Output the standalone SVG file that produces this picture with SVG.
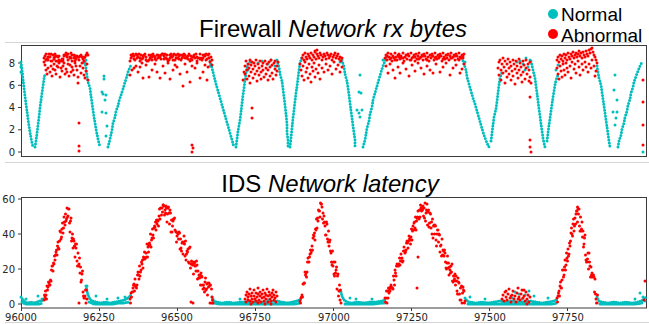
<svg xmlns="http://www.w3.org/2000/svg" width="649" height="324" viewBox="0 0 649 324">
<style>
.c{fill:none;stroke:#00bfbf;stroke-width:3;stroke-linecap:round}
.r{fill:none;stroke:#ff0000;stroke-width:3;stroke-linecap:round}
.cd{fill:none;stroke:#00bfbf;stroke-width:3;stroke-linecap:round;stroke-dasharray:0 3}
.cb{fill:none;stroke:#00bfbf;stroke-width:3;stroke-linecap:round;stroke-dasharray:0 2.2}
.ax{fill:none;stroke:#3a3a3a;stroke-width:1}
.tk{stroke:#3a3a3a;stroke-width:1}
.tl{font-family:"DejaVu Sans",sans-serif;font-size:10px;fill:#262626}
.ttl{font-family:"Liberation Sans",Arial,sans-serif;font-size:24px;fill:#000}
.lg{font-family:"Liberation Sans",Arial,sans-serif;font-size:19px;fill:#000}
.sep{stroke:#d4d4d4;stroke-width:1}
</style>
<rect width="649" height="324" fill="#fff"/>
<g id="separators">
<line class="sep" x1="5" y1="42.5" x2="642" y2="42.5"/>
<line class="sep" x1="5" y1="162.5" x2="649" y2="162.5"/>
<line class="sep" x1="5" y1="322.5" x2="649" y2="322.5"/>
</g>
<g id="title-top"><text class="ttl" x="333" y="37" text-anchor="middle">Firewall <tspan font-style="italic">Network rx bytes</tspan></text></g>
<g id="title-bottom"><text class="ttl" x="330" y="191.5" text-anchor="middle">IDS <tspan font-style="italic">Network latency</tspan></text></g>
<g id="legend">
<circle cx="553" cy="14" r="5" fill="#00bfbf"/>
<text class="lg" x="561" y="21">Normal</text>
<circle cx="553" cy="34" r="5" fill="#ff0000"/>
<text class="lg" x="561" y="42">Abnormal</text>
</g>
<g id="top-axes">
<rect class="ax" x="21.5" y="45.5" width="625" height="111"/>
<line class="tk" x1="18" y1="63" x2="21" y2="63"/>
<line class="tk" x1="18" y1="85.3" x2="21" y2="85.3"/>
<line class="tk" x1="18" y1="107.5" x2="21" y2="107.5"/>
<line class="tk" x1="18" y1="129.8" x2="21" y2="129.8"/>
<line class="tk" x1="18" y1="152" x2="21" y2="152"/>
<text class="tl" x="15" y="66.5" text-anchor="end">8</text>
<text class="tl" x="15" y="88.8" text-anchor="end">6</text>
<text class="tl" x="15" y="111" text-anchor="end">4</text>
<text class="tl" x="15" y="133.3" text-anchor="end">2</text>
<text class="tl" x="15" y="155.5" text-anchor="end">0</text>
</g>
<g id="top-normal">
<polyline class="cd" points="21,62 22,70 23,79 24,88 25,96 26,104 27,111 28,119 29,126 30,132 31,138 32,143 33,147"/>
<polyline class="cd" points="35,147 36,141 37,133 38,125 39,117 40,108 41,100 42,93 43,86 44,79 45,73"/>
<polyline class="cd" points="85,62 86,68 87,76 88,82 90,88 91,96 92,103 93,110 94,117 95,123 96,129 97,134 98,139 99,143 100,147"/>
<polyline class="cd" points="108,147 110,139 112,130 113,123 115,117 116,111 118,106 119,101 121,95 123,89 125,82 127,76 128,72 130,67 132,64"/>
<polyline class="cd" points="210,61 212,68 214,76 216,84 218,91 220,98 222,105 224,112 226,119 228,126 230,133 232,140 234,147"/>
<polyline class="cd" points="236,147 237,139 238,131 240,120 241,112 242,103 243,95 244,88 245,80 246,73 247,67 249,62"/>
<polyline class="cd" points="277,60 279,67 280,74 282,81 283,89 284,97 285,105 286,114 287,124 287,133 288,140 288,147"/>
<polyline class="cd" points="290,147 291,138 292,128 293,118 294,110 295,101 296,93 297,86 298,78 299,70 300,63 302,57"/>
<polyline class="cd" points="342,60 344,67 345,74 347,81 348,88 349,95 350,103 351,111 352,118 353,126 354,133 355,140 355,147"/>
<polyline class="cd" points="363,147 365,140 366,134 367,128 369,121 370,114 372,107 373,100 375,93 377,86 379,79 381,72 383,66 385,61 387,56"/>
<polyline class="cd" points="462,58 464,64 466,70 467,77 469,84 471,91 473,98 475,104 477,111 479,118 481,125 483,132 485,138 487,143 489,147"/>
<polyline class="cd" points="491,141 492,133 493,125 494,117 496,109 497,101 498,93 499,85 500,78 502,72"/>
<polyline class="cd" points="531,61 533,70 535,78 536,86 537,93 538,101 539,109 540,116 541,124 542,131 543,138 544,143 545,147"/>
<polyline class="cd" points="547,141 548,133 549,125 550,118 551,111 552,104 553,97 554,91 555,85 556,80 558,75"/>
<polyline class="cd" points="597,66 598,72 599,78 601,85 602,92 603,99 604,106 605,113 606,120 607,127 608,134 609,141 610,147"/>
<polyline class="cd" points="618,147 619,141 621,135 622,129 624,123 625,117 627,111 628,105 630,99 631,93 633,87 634,82 636,76 638,71 640,66 642,62"/>
<path class="c" d="M21 67h0M22 74h0M21 72h0M104 76h0M104 79h0M102 92h0M103 94h0M106 95h0M105 100h0M102 112h0M106 113h0M107 126h0M106 136h0M84 63h0M86 60h0M250 62h0M258 63h0M262 61h0M271 60h0M275 66h0M268 64h0M340 62h0M383 60h0M360 75h0M359 92h0M361 93h0M357 110h0M362 110h0M359 113h0M360 117h0M520 61h0M523 64h0M526 58h0M528 67h0M530 60h0M525 70h0M517 62h0M556 70h0M558 65h0M615 75h0M614 90h0M617 100h0M613 112h0M617 112h0M615 125h0M616 118h0M643 152h0M465 62h0M210 66h0M248 70h0"/>
</g>
<g id="top-abnormal">
<path class="r" d="M45 56h0M46 54h0M48 57h0M49 54h0M50 57h0M51 61h0M53 55h0M54 58h0M55 57h0M57 56h0M58 57h0M59 60h0M61 61h0M62 59h0M63 61h0M64 56h0M66 55h0M67 56h0M68 60h0M70 57h0M71 58h0M72 55h0M74 58h0M75 57h0M76 56h0M77 56h0M79 60h0M80 56h0M81 55h0M83 59h0M84 61h0M85 57h0M87 53h0M88 55h0M46 60h0M47 59h0M48 60h0M50 57h0M51 54h0M52 61h0M54 59h0M55 54h0M56 61h0M58 61h0M59 56h0M60 61h0M62 61h0M63 59h0M64 55h0M66 53h0M67 57h0M68 54h0M70 58h0M71 53h0M72 61h0M74 55h0M75 61h0M76 59h0M78 57h0M79 57h0M80 56h0M82 57h0M83 57h0M84 58h0M86 55h0M44 58h0M44 62h0M45 65h0M46 70h0M47 74h0M48 68h0M50 72h0M51 66h0M52 76h0M54 64h0M55 70h0M56 74h0M58 67h0M59 63h0M60 77h0M62 71h0M63 66h0M65 74h0M66 69h0M68 64h0M69 76h0M71 72h0M72 67h0M74 75h0M75 63h0M77 70h0M78 77h0M80 66h0M81 73h0M83 68h0M84 75h0M86 71h0M87 64h0M85 78h0M78 83h0M88 80h0M53 69h0M57 66h0M61 68h0M64 63h0M67 72h0M70 65h0M73 70h0M76 66h0M82 63h0"/>
<path class="r" d="M130 61h0M131 55h0M132 56h0M133 54h0M134 59h0M135 60h0M136 54h0M137 58h0M138 57h0M139 54h0M140 58h0M141 55h0M142 59h0M143 58h0M144 55h0M145 54h0M146 60h0M147 61h0M148 61h0M149 60h0M150 58h0M151 55h0M152 60h0M153 54h0M154 56h0M155 57h0M156 60h0M157 55h0M158 58h0M159 56h0M160 57h0M161 55h0M162 54h0M163 54h0M164 59h0M165 54h0M166 58h0M167 59h0M168 61h0M169 60h0M170 55h0M171 54h0M172 57h0M173 60h0M174 54h0M175 60h0M176 58h0M177 58h0M178 54h0M179 56h0M180 55h0M181 60h0M182 55h0M183 56h0M184 54h0M185 58h0M186 58h0M187 57h0M188 59h0M189 54h0M190 61h0M191 56h0M192 60h0M193 57h0M194 57h0M195 58h0M196 54h0M197 61h0M198 58h0M199 58h0M200 54h0M201 58h0M202 60h0M203 55h0M204 55h0M205 56h0M206 54h0M207 59h0M208 55h0M209 58h0M131 58h0M134 56h0M137 55h0M140 61h0M143 56h0M146 57h0M149 55h0M152 57h0M155 59h0M158 55h0M161 59h0M164 56h0M167 55h0M170 58h0M173 56h0M176 55h0M179 59h0M182 58h0M185 55h0M188 56h0M191 59h0M194 55h0M197 57h0M200 59h0M203 58h0M206 60h0M209 54h0M211 57h0M212 60h0M130 75h0M132 70h0M134 68h0M136 66h0M138 72h0M140 67h0M142 63h0M143 78h0M146 65h0M149 77h0M152 70h0M155 64h0M157 72h0M160 78h0M163 66h0M165 73h0M168 63h0M170 79h0M173 70h0M175 65h0M177 67h0M180 74h0M183 86h0M185 64h0M187 72h0M190 82h0M192 66h0M195 68h0M197 63h0M200 78h0M203 72h0M205 65h0M207 80h0M208 67h0M210 62h0M212 65h0"/>
<path class="r" d="M245 66h0M245 74h0M246 61h0M247 70h0M247 79h0M248 64h0M249 68h0M249 76h0M250 60h0M250 83h0M251 65h0M251 72h0M252 62h0M253 69h0M253 78h0M254 63h0M255 74h0M255 66h0M256 60h0M257 71h0M257 81h0M258 64h0M259 68h0M259 75h0M260 61h0M261 72h0M261 79h0M262 66h0M263 63h0M263 70h0M264 77h0M265 61h0M266 68h0M266 74h0M267 64h0M268 80h0M268 70h0M269 62h0M270 67h0M270 76h0M271 60h0M272 73h0M272 65h0M273 79h0M274 63h0M275 69h0M275 61h0M276 75h0M277 66h0M278 62h0M277 71h0M244 72h0M243 80h0"/>
<path class="r" d="M302 58h0M303 55h0M304 60h0M305 53h0M306 57h0M307 59h0M308 54h0M309 56h0M310 58h0M311 53h0M312 60h0M313 55h0M314 57h0M315 52h0M316 59h0M317 54h0M318 56h0M319 58h0M320 53h0M321 55h0M322 60h0M323 57h0M324 54h0M325 56h0M326 59h0M327 53h0M328 55h0M329 58h0M330 56h0M331 54h0M332 60h0M333 57h0M334 55h0M335 53h0M336 58h0M337 56h0M338 54h0M339 59h0M340 57h0M341 61h0M342 58h0M315 51h0M317 50h0M300 64h0M301 70h0M302 76h0M303 66h0M304 80h0M305 62h0M306 72h0M307 68h0M308 78h0M309 64h0M310 74h0M311 82h0M312 67h0M313 71h0M314 63h0M315 77h0M316 69h0M318 73h0M319 65h0M320 79h0M322 68h0M324 72h0M326 64h0M328 70h0M330 66h0M332 74h0M334 62h0M336 69h0M338 65h0M340 72h0M342 67h0"/>
<path class="r" d="M385 58h0M386 55h0M387 60h0M388 53h0M389 57h0M390 59h0M391 54h0M392 61h0M393 56h0M394 58h0M395 53h0M396 57h0M397 60h0M398 55h0M399 54h0M400 59h0M401 56h0M402 58h0M403 53h0M404 61h0M405 57h0M406 55h0M407 59h0M408 54h0M409 56h0M410 60h0M411 53h0M412 58h0M413 57h0M414 55h0M415 61h0M416 54h0M417 59h0M418 56h0M419 53h0M420 58h0M421 57h0M422 55h0M423 60h0M424 54h0M425 56h0M426 59h0M427 53h0M428 57h0M429 61h0M430 55h0M431 58h0M432 54h0M433 56h0M434 60h0M435 53h0M436 57h0M437 59h0M438 55h0M439 58h0M440 54h0M441 56h0M442 61h0M443 53h0M444 57h0M445 59h0M446 55h0M447 58h0M448 54h0M449 60h0M450 56h0M451 53h0M452 58h0M453 57h0M454 55h0M455 60h0M456 54h0M457 56h0M458 59h0M459 53h0M460 57h0M461 58h0M462 55h0M463 56h0M464 54h0M387 56h0M391 58h0M395 60h0M399 57h0M403 58h0M407 55h0M411 60h0M415 57h0M419 59h0M423 56h0M427 60h0M431 55h0M435 58h0M439 56h0M443 59h0M447 55h0M451 58h0M455 56h0M459 60h0M463 58h0M386 66h0M388 73h0M390 64h0M393 70h0M395 78h0M398 67h0M400 73h0M403 63h0M406 69h0M409 76h0M412 65h0M415 71h0M418 63h0M421 68h0M424 74h0M427 66h0M430 70h0M433 73h0M436 64h0M440 72h0M443 67h0M446 63h0M450 75h0M453 68h0M456 65h0M460 73h0M462 69h0M464 64h0"/>
<path class="r" d="M498 68h0M499 62h0M499 75h0M500 60h0M501 70h0M501 80h0M502 64h0M503 58h0M503 73h0M504 67h0M505 61h0M505 83h0M506 71h0M507 64h0M507 77h0M508 59h0M509 68h0M509 74h0M510 62h0M511 80h0M511 66h0M512 71h0M513 60h0M513 76h0M514 64h0M515 69h0M515 84h0M516 61h0M517 73h0M517 66h0M518 78h0M519 59h0M519 70h0M520 63h0M521 75h0M521 67h0M522 82h0M523 61h0M523 72h0M524 65h0M525 79h0M526 68h0M526 60h0M527 74h0M528 64h0M529 81h0M529 70h0M530 62h0M530 77h0M531 83h0"/>
<path class="r" d="M557 60h0M558 57h0M559 62h0M560 55h0M561 59h0M562 56h0M563 61h0M564 54h0M565 58h0M566 55h0M567 60h0M568 53h0M569 57h0M570 59h0M571 54h0M572 56h0M573 52h0M574 58h0M575 55h0M576 53h0M577 57h0M578 54h0M579 51h0M580 56h0M581 53h0M582 58h0M583 52h0M584 55h0M585 57h0M586 51h0M587 54h0M588 56h0M589 50h0M590 53h0M591 49h0M592 48h0M593 52h0M594 55h0M595 57h0M596 60h0M597 63h0M557 68h0M558 74h0M559 79h0M560 66h0M561 71h0M562 77h0M563 64h0M564 70h0M565 75h0M566 63h0M567 68h0M568 72h0M570 66h0M571 78h0M572 62h0M574 69h0M575 64h0M576 73h0M578 61h0M579 67h0M580 75h0M582 64h0M583 70h0M585 62h0M586 67h0M588 72h0M589 64h0M591 68h0M592 60h0M594 66h0M596 71h0M597 63h0M595 76h0"/>
<path class="r" d="M79 123h0M79 146h0M79 151h0M192 145h0M193 148h0M192 152h0M252 108h0M252 118h0M530 97h0M530 140h0M530 147h0M531 152h0M643 80h0M643 102h0M643 125h0M643 145h0"/>
</g>
<g id="bottom-axes">
<rect class="ax" x="21.5" y="197.5" width="625" height="110.5"/>
<line class="tk" x1="18" y1="199" x2="21" y2="199"/>
<line class="tk" x1="18" y1="234" x2="21" y2="234"/>
<line class="tk" x1="18" y1="269" x2="21" y2="269"/>
<line class="tk" x1="18" y1="304" x2="21" y2="304"/>
<text class="tl" x="15" y="202.5" text-anchor="end">60</text>
<text class="tl" x="15" y="237.5" text-anchor="end">40</text>
<text class="tl" x="15" y="272.5" text-anchor="end">20</text>
<text class="tl" x="15" y="307.5" text-anchor="end">0</text>
<line class="tk" x1="21.5" y1="308" x2="21.5" y2="311"/>
<line class="tk" x1="99.5" y1="308" x2="99.5" y2="311"/>
<line class="tk" x1="177.5" y1="308" x2="177.5" y2="311"/>
<line class="tk" x1="255.5" y1="308" x2="255.5" y2="311"/>
<line class="tk" x1="333.5" y1="308" x2="333.5" y2="311"/>
<line class="tk" x1="411.5" y1="308" x2="411.5" y2="311"/>
<line class="tk" x1="489.5" y1="308" x2="489.5" y2="311"/>
<line class="tk" x1="567.5" y1="308" x2="567.5" y2="311"/>
<text class="tl" x="21" y="321" text-anchor="middle">96000</text>
<text class="tl" x="99" y="321" text-anchor="middle">96250</text>
<text class="tl" x="177" y="321" text-anchor="middle">96500</text>
<text class="tl" x="255" y="321" text-anchor="middle">96750</text>
<text class="tl" x="334" y="321" text-anchor="middle">97000</text>
<text class="tl" x="412" y="321" text-anchor="middle">97250</text>
<text class="tl" x="490" y="321" text-anchor="middle">97500</text>
<text class="tl" x="568" y="321" text-anchor="middle">97750</text>
</g>
<g id="bottom-normal">
<polyline class="cb" points="21,297 23,300 25,302 28,303 31,302 34,303 37,302 40,301 43,300 45,298"/>
<polyline class="cb" points="22,302 25,304 28,304 31,304 34,304 37,304 40,304 43,303"/>
<polyline class="cb" points="86,286 87,291 88,295 90,299 92,301 96,302 100,303 105,302 110,303 115,302 120,301 124,300 128,298 131,295"/>
<polyline class="cb" points="89,302 94,304 99,304 104,304 109,304 114,304 119,303 124,303 129,302"/>
<polyline class="cb" points="212,297 214,301 217,302 222,303 228,302 234,303 240,302 246,302 255,302 265,302 277,301 282,302 287,303 292,302 297,301 301,299"/>
<polyline class="cb" points="213,303 219,304 225,304 231,304 237,304 243,304 252,304 260,304 268,304 276,304 284,304 290,304 296,304 300,303"/>
<polyline class="cb" points="341,292 342,296 344,300 347,302 352,303 358,302 364,303 370,302 376,302 382,301 386,299"/>
<polyline class="cb" points="345,304 351,304 357,304 363,304 369,304 375,304 381,303 385,303"/>
<polyline class="cb" points="465,298 467,301 470,302 476,303 482,302 488,303 494,302 500,301 506,302 512,301 518,302 524,302 530,301 536,302 542,303 548,302 554,301 558,299"/>
<polyline class="cb" points="468,304 474,304 480,304 486,304 492,304 498,304 504,304 510,304 516,304 522,304 528,304 534,304 540,304 546,304 552,304 557,303"/>
<polyline class="cb" points="597,297 599,301 602,302 608,303 614,302 620,303 626,302 632,303 638,302 643,300 646,297"/>
<polyline class="cb" points="600,304 606,304 612,304 618,304 624,304 630,304 636,304 642,303"/>
<path class="c" d="M38 296h0M42 299h0M26 299h0M96 296h0M107 299h0M118 298h0M125 297h0M87 286h0M240 299h0M356 299h0M372 299h0M350 298h0M512 298h0M515 292h0M519 294h0M522 299h0M525 295h0M529 291h0M534 296h0M548 298h0M470 297h0M485 299h0M640 293h0M643 297h0M635 299h0M645 301h0M268 300h0M256 301h0"/>
</g>
<g id="bottom-abnormal">
<path class="r" d="M44 300h0M44.5 295h0M45 297h0M45.5 291h0M46 295h0M46.5 299h0M47 286h0M47.5 290h0M48 287h0M48.5 282h0M49 283h0M49.5 285h0M50 285h0M50.5 280h0M51 281h0M51.5 270h0M52 266h0M52.5 266h0M53 271h0M53.5 263h0M54 264h0M54.5 256h0M55 260h0M55.5 255h0M56 252h0M56.5 250h0M57 255h0M57.5 246h0M58 242h0M58.5 248h0M59 249h0M59.5 241h0M60 231h0M60.5 232h0M61 239h0M61.5 237h0M62 229h0M62.5 223h0M63 233h0M63.5 228h0M64 217h0M64.5 222h0M65 225h0M65.5 214h0M66 221h0M66.5 219h0M67 208h0M67.5 217h0M68 216h0M68.5 209h0M69 209h0M69.5 223h0M70 232h0M70.5 221h0M71 218h0M71.5 241h0M72 238h0M72.5 234h0M73 248h0M73.5 239h0M74 241h0M74.5 246h0M75 257h0M75.5 244h0M76 248h0M76.5 244h0M77 261h0M77.5 266h0M78 253h0M78.5 266h0M79 264h0M79.5 258h0M80 273h0M80.5 267h0M81 282h0M81.5 280h0M82 274h0M82.5 271h0M83 292h0M83.5 296h0M84 298h0M84.5 298h0M85 296h0M85.5 290h0M86 303h0M86.5 290h0M87 299h0M79 303h0"/>
<path class="r" d="M130 299h0M130.5 303h0M131 293h0M131.5 297h0M132 292h0M132.5 292h0M133 288h0M133.5 285h0M134 284h0M134.5 291h0M135 279h0M135.5 286h0M136 287h0M136.5 288h0M137 285h0M137.5 275h0M138 272h0M138.5 275h0M139 279h0M139.5 266h0M140 276h0M140.5 272h0M141 270h0M141.5 262h0M142 264h0M142.5 260h0M143 268h0M143.5 257h0M144 258h0M144.5 252h0M145 259h0M145.5 258h0M146 253h0M146.5 257h0M147 244h0M147.5 257h0M148 247h0M148.5 252h0M149 245h0M149.5 243h0M150 245h0M150.5 234h0M151 247h0M151.5 240h0M152 238h0M152.5 229h0M153 235h0M153.5 238h0M154 228h0M154.5 226h0M155 227h0M155.5 222h0M156 230h0M156.5 220h0M157 224h0M157.5 220h0M158 221h0M158.5 226h0M159 216h0M159.5 209h0M160 219h0M160.5 208h0M161 208h0M161.5 215h0M162 208h0M162.5 212h0M163 205h0M163.5 205h0M164 206h0M164.5 215h0M165 210h0M165.5 213h0M166 206h0M166.5 208h0M167 222h0M167.5 214h0M168 208h0M168.5 207h0M169 213h0M169.5 224h0M170 210h0M170.5 213h0M171 232h0M171.5 220h0M172 232h0M172.5 226h0M173 221h0M173.5 219h0M174 219h0M174.5 218h0M175 230h0M175.5 231h0M176 232h0M176.5 242h0M177 236h0M177.5 233h0M178 234h0M178.5 239h0M179 232h0M179.5 233h0M180 249h0M180.5 239h0M181 248h0M181.5 251h0M182 243h0M182.5 242h0M183 254h0M183.5 242h0M184 236h0M184.5 244h0M185 256h0M185.5 241h0M186 260h0M186.5 254h0M187 251h0M187.5 252h0M188 249h0M188.5 262h0M189 263h0M189.5 248h0M190 247h0M190.5 268h0M191 264h0M191.5 261h0M192 264h0M192.5 265h0M193 264h0M193.5 274h0M194 262h0M194.5 263h0M195 266h0M195.5 266h0M196 271h0M196.5 261h0M197 265h0M197.5 279h0M198 271h0M198.5 278h0M199 275h0M199.5 278h0M200 275h0M200.5 285h0M201 273h0M201.5 276h0M202 277h0M202.5 285h0M203 289h0M203.5 285h0M204 288h0M204.5 292h0M205 282h0M205.5 278h0M206 290h0M206.5 289h0M207 284h0M207.5 295h0M208 283h0M208.5 287h0M209 283h0M209.5 286h0M210 303h0M210.5 285h0M211 303h0M211.5 289h0M212 297h0M212.5 300h0M213 303h0M191 302h0M193 303h0"/>
<path class="r" d="M245 299h0M246 295h0M246 302h0M247 292h0M248 297h0M248 300h0M249 294h0M250 301h0M250 289h0M251 296h0M252 299h0M252 293h0M253 302h0M254 296h0M254 290h0M255 299h0M256 293h0M256 301h0M257 297h0M258 294h0M258 288h0M259 300h0M260 296h0M260 292h0M261 302h0M262 298h0M262 294h0M263 290h0M264 297h0M264 301h0M265 293h0M266 299h0M266 295h0M267 289h0M268 302h0M268 296h0M269 292h0M270 299h0M270 295h0M271 301h0M272 293h0M272 297h0M273 290h0M274 300h0M274 295h0M275 298h0M276 292h0M276 302h0M277 296h0M251 304h0M258 303h0M265 304h0M271 304h0"/>
<path class="r" d="M300 301h0M300.5 303h0M301 298h0M301.5 297h0M302 295h0M302.5 297h0M303 284h0M303.5 284h0M304 283h0M304.5 283h0M305 272h0M305.5 275h0M306 273h0M306.5 277h0M307 272h0M307.5 262h0M308 258h0M308.5 262h0M309 262h0M309.5 257h0M310 254h0M310.5 250h0M311 253h0M311.5 251h0M312 246h0M312.5 250h0M313 238h0M313.5 235h0M314 236h0M314.5 233h0M315 240h0M315.5 229h0M316 230h0M316.5 219h0M317 228h0M317.5 218h0M318 221h0M318.5 210h0M319 211h0M319.5 211h0M320 217h0M320.5 203h0M321 204h0M321.5 204h0M322 207h0M322.5 219h0M323 213h0M323.5 223h0M324 216h0M324.5 222h0M325 226h0M325.5 235h0M326 235h0M326.5 222h0M327 224h0M327.5 239h0M328 242h0M328.5 231h0M329 246h0M329.5 242h0M330 240h0M330.5 251h0M331 253h0M331.5 262h0M332 265h0M332.5 251h0M333 266h0M333.5 262h0M334 274h0M334.5 276h0M335 262h0M335.5 273h0M336 270h0M336.5 267h0M337 289h0M337.5 276h0M338 274h0M338.5 296h0M339 291h0M339.5 285h0M340 300h0M340.5 290h0M341 303h0"/>
<path class="r" d="M385 298h0M385.5 302h0M386 298h0M386.5 291h0M387 303h0M387.5 291h0M388 298h0M388.5 288h0M389 293h0M389.5 289h0M390 291h0M390.5 287h0M391 285h0M391.5 287h0M392 288h0M392.5 288h0M393 289h0M393.5 276h0M394 280h0M394.5 285h0M395 270h0M395.5 273h0M396 276h0M396.5 266h0M397 264h0M397.5 265h0M398 264h0M398.5 266h0M399 264h0M399.5 258h0M400 265h0M400.5 261h0M401 254h0M401.5 261h0M402 258h0M402.5 262h0M403 261h0M403.5 251h0M404 247h0M404.5 251h0M405 253h0M405.5 252h0M406 250h0M406.5 243h0M407 241h0M407.5 243h0M408 248h0M408.5 241h0M409 236h0M409.5 239h0M410 240h0M410.5 244h0M411 237h0M411.5 229h0M412 240h0M412.5 231h0M413 226h0M413.5 230h0M414 223h0M414.5 222h0M415 228h0M415.5 217h0M416 230h0M416.5 221h0M417 218h0M417.5 217h0M418 211h0M418.5 218h0M419 219h0M419.5 210h0M420 217h0M420.5 205h0M421 208h0M421.5 211h0M422 209h0M422.5 210h0M423 206h0M417 288h0M418 257h0M423.5 216h0M424 208h0M424.5 218h0M425 203h0M425.5 221h0M426 213h0M426.5 210h0M427 204h0M427.5 225h0M428 212h0M428.5 210h0M429 227h0M429.5 223h0M430 213h0M430.5 214h0M431 228h0M431.5 222h0M432 234h0M432.5 219h0M433 238h0M433.5 226h0M434 225h0M434.5 234h0M435 225h0M435.5 226h0M436 240h0M436.5 246h0M437 234h0M437.5 230h0M438 230h0M438.5 242h0M439 234h0M439.5 235h0M440 252h0M440.5 246h0M441 245h0M441.5 256h0M442 239h0M442.5 255h0M443 250h0M443.5 251h0M444 256h0M444.5 250h0M445 253h0M445.5 262h0M446 268h0M446.5 269h0M447 263h0M447.5 256h0M448 268h0M448.5 263h0M449 275h0M449.5 267h0M450 270h0M450.5 273h0M451 266h0M451.5 272h0M452 264h0M452.5 281h0M453 282h0M453.5 276h0M454 281h0M454.5 279h0M455 274h0M455.5 285h0M456 276h0M456.5 281h0M457 291h0M457.5 294h0M458 278h0M458.5 282h0M459 283h0M459.5 294h0M460 300h0M460.5 288h0M461 300h0M461.5 286h0M462 303h0M462.5 293h0M463 287h0M463.5 290h0M464 291h0M464.5 303h0M465 301h0"/>
<path class="r" d="M502 299h0M503 295h0M504 301h0M505 292h0M506 297h0M507 300h0M508 294h0M509 289h0M510 298h0M511 302h0M512 295h0M513 291h0M514 299h0M515 296h0M516 302h0M517 293h0M518 288h0M519 297h0M520 300h0M521 294h0M522 290h0M523 298h0M524 296h0M525 301h0M526 292h0M527 299h0M528 295h0M529 302h0M530 297h0M506 291h0M511 296h0M518 299h0M524 290h0M527 304h0"/>
<path class="r" d="M557 298h0M557.5 302h0M558 296h0M558.5 293h0M559 291h0M559.5 296h0M560 286h0M560.5 282h0M561 288h0M561.5 288h0M562 280h0M562.5 270h0M563 270h0M563.5 277h0M564 275h0M564.5 267h0M565 260h0M565.5 270h0M566 265h0M566.5 253h0M567 258h0M567.5 261h0M568 249h0M568.5 256h0M569 254h0M569.5 243h0M570 246h0M570.5 241h0M571 233h0M571.5 228h0M572 234h0M572.5 236h0M573 224h0M573.5 219h0M574 231h0M574.5 226h0M575 218h0M575.5 224h0M576 214h0M576.5 211h0M577 211h0M577.5 207h0M577.5 222h0M578 209h0M578.5 214h0M579 209h0M579.5 226h0M580 231h0M580.5 217h0M581 231h0M581.5 229h0M582 222h0M582.5 237h0M583 231h0M583.5 247h0M584 244h0M584.5 238h0M585 235h0M585.5 255h0M586 260h0M586.5 262h0M587 262h0M587.5 259h0M588 253h0M588.5 269h0M589 253h0M589.5 262h0M590 266h0M590.5 277h0M591 267h0M591.5 275h0M592 273h0M592.5 277h0M593 275h0M593.5 275h0M594 277h0M594.5 292h0M595 279h0M595.5 294h0M596 299h0M596.5 303h0M597 303h0M597.5 295h0M645 281h0M644 300h0"/>
</g>
</svg>
